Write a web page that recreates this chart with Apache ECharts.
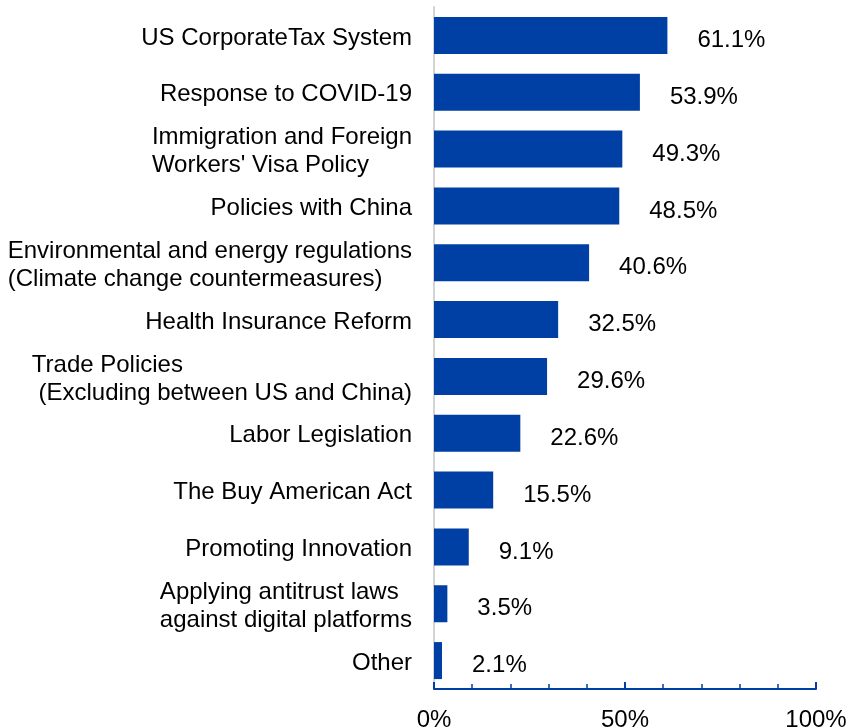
<!DOCTYPE html>
<html>
<head>
<meta charset="utf-8">
<script src="https://cdn.jsdelivr.net/npm/echarts@6/dist/echarts.min.js"></script>
<style>
  html, body { margin: 0; padding: 0; background: #fff; }
  #main { width: 850px; height: 728px; }
</style>
</head>
<body>
<div id="main"></div>
<script>
const categories = [
  'US CorporateTax System',
  'Response to COVID-19',
  'Immigration and Foreign\nWorkers\' Visa Policy',
  'Policies with China',
  'Environmental and energy regulations\n(Climate change countermeasures)',
  'Health Insurance Reform',
  'Trade Policies\n (Excluding between US and China)',
  'Labor Legislation',
  'The Buy American Act',
  'Promoting Innovation',
  'Applying antitrust laws\nagainst digital platforms',
  'Other'
]
const values = [61.1, 53.9, 49.3, 48.5, 40.6, 32.5, 29.6, 22.6, 15.5, 9.1, 3.5, 2.1]
const axisTicks = [0, 50, 100]

const font = 'Arial, "Liberation Sans", sans-serif'
const barColor = '#003fa3'

const chart = echarts.init(document.getElementById('main'))

chart.setOption({
  animation: false,
  grid: {
    left: 434,
    right: 34,
    top: 7,
    bottom: 39,
    containLabel: false,
    outerBoundsMode: 'none',
  },
  xAxis: {
    type: 'value',
    min: 0,
    max: 100,
    interval: 50,
    splitLine: { show: false },
    axisLine: {
      show: true,
      lineStyle: { color: barColor, width: 2 },
    },
    axisTick: {
      show: true,
      inside: true,
      length: 7,
      lineStyle: { color: barColor, width: 2 },
    },
    minorTick: {
      show: true,
      splitNumber: 5,
      length: 5,
      lineStyle: { color: barColor, width: 1.5 },
    },
    axisLabel: {
      margin: 19,
      color: '#000',
      fontFamily: font,
      fontSize: 24,
      formatter: (v) => (axisTicks.includes(v) ? v + '%' : ''),
    },
  },
  yAxis: {
    type: 'category',
    data: categories,
    inverse: true,
    axisLine: {
      show: true,
      lineStyle: { color: '#d4d4d4', width: 2 },
    },
    axisTick: { show: false },
    axisLabel: {
      margin: 22,
      padding: [5, 0, 0, 0],
      color: '#000',
      fontFamily: font,
      fontSize: 24,
      lineHeight: 28,
      formatter: (v) => v.split('\n').map((l) => '{l|' + l + '}').join('\n'),
      rich: {
        l: {
          align: 'left',
          color: '#000',
          fontFamily: font,
          fontSize: 24,
          lineHeight: 28,
        },
      },
    },
  },
  series: [
    {
      type: 'bar',
      data: values,
      barWidth: 37,
      itemStyle: { color: barColor },
      label: {
        show: true,
        position: 'right',
        distance: 30,
        offset: [0, 5],
        color: '#000',
        fontFamily: font,
        fontSize: 24,
        formatter: (p) => p.value.toFixed(1) + '%',
      },
    },
  ],
})
</script>
</body>
</html>
